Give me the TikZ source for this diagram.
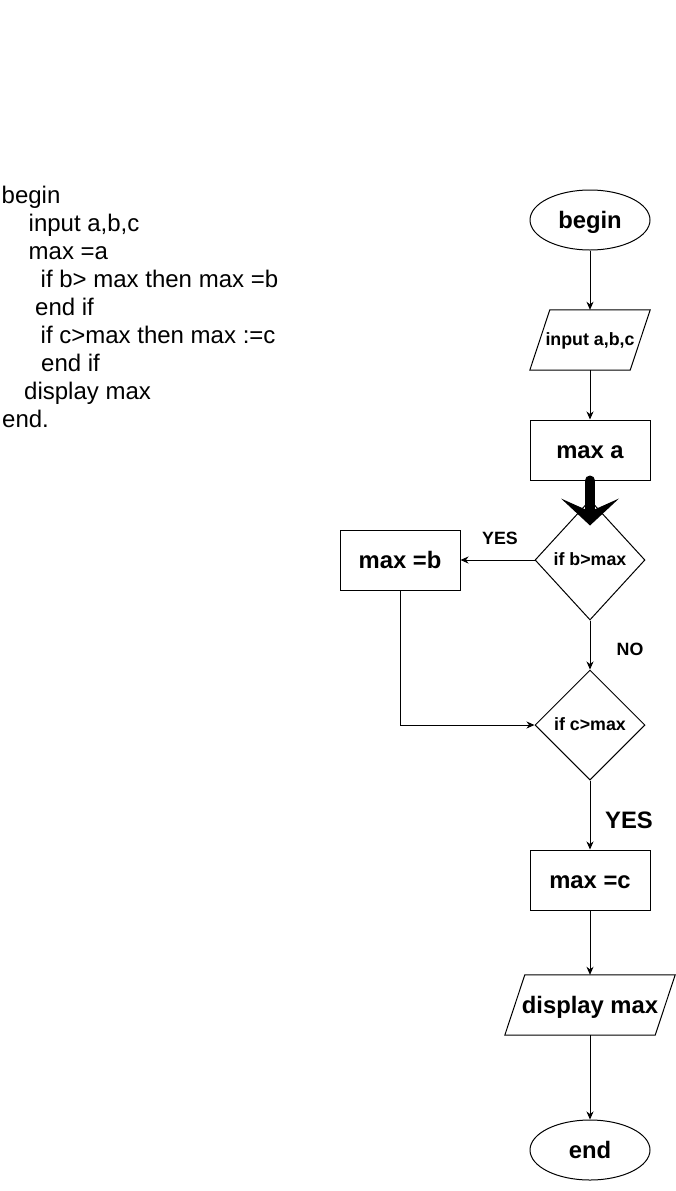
\documentclass[tikz,border=0pt]{standalone}
\usepackage{fontspec}
\setmainfont{Liberation Sans}
\usetikzlibrary{shapes.geometric,arrows.meta}
\begin{document}
\begin{tikzpicture}[x=1pt,y=-1pt,
  big/.style={font=\fontsize{23.8}{28}\selectfont\bfseries, text height=17pt, text depth=1pt},
  small/.style={font=\fontsize{17.8}{21}\selectfont\bfseries, text height=12.5pt, text depth=1.5pt},
  code/.style={font=\fontsize{24}{28}\selectfont, anchor=base west, inner sep=0pt},
  terminal/.style={draw, ellipse, minimum width=120pt, minimum height=60pt, inner sep=0pt, line width=1pt, big},
  process/.style={draw, rectangle, minimum width=120pt, minimum height=60pt, inner sep=0pt, line width=1pt, big},
  iobox/.style={rectangle, minimum height=60pt, inner sep=0pt},
  decision/.style={draw, diamond, minimum width=110pt, inner sep=0pt, line width=1pt, small},
  slanted/.style={line width=1pt, line join=miter},
  flow/.style={line width=1pt, -{Stealth[length=8pt,width=7pt,inset=2.5pt]}},
  heavyflow/.style={line width=10pt, line cap=round,
    -{Stealth[length=27pt,width=58pt,inset=13pt,line width=0pt]}, shorten >=-26pt},
  lbl/.style={inner sep=0pt}
]
\useasboundingbox (0,0) rectangle (676,1191);

% pseudo-code listing
\node[code] (c1) at (1.5,203) {begin};
\node[code] (c2) at (28.5,231) {input a,b,c};
\node[code] (c3) at (28.5,259) {max =a};
\node[code] (c4) at (40.5,287) {if b> max then max =b};
\node[code] (c5) at (35,315) {end if};
\node[code] (c6) at (40.5,343) {if c>max then max :=c};
\node[code] (c7) at (41,371) {end if};
\node[code] (c8) at (24,399) {display max};
\node[code] (c9) at (2,427) {end.};

% flowchart nodes
\node[terminal] (begin) at (590,220) {begin};
\node[iobox, minimum width=120pt, small] (input) at (590,340) {input a,b,c};
\draw[slanted] ([xshift=20pt]input.north west) -- (input.north east)
  -- ([xshift=-20pt]input.south east) -- (input.south west) -- cycle;
\node[process] (maxa) at (590,450) {max a};
\node[decision, minimum height=120pt] (ifb) at (590,560) {if b>max};
\node[process] (maxb) at (400,560) {max =b};
\node[decision, minimum height=110pt] (ifc) at (590,725) {if c>max};
\node[process] (maxc) at (590,880) {max =c};
\node[iobox, minimum width=170pt, big] (disp) at (590,1005) {display max};
\draw[slanted] ([xshift=20pt]disp.north west) -- (disp.north east)
  -- ([xshift=-20pt]disp.south east) -- (disp.south west) -- cycle;
\node[terminal] (end) at (590,1150) {end};

% branch labels
\node[lbl, small] (yes1) at (500,539) {YES};
\node[lbl, small] (no1) at (630,650) {NO};
\node[lbl, big] (yes2) at (629,820) {YES};

% connectors
\draw[flow] (begin) -- (input);
\draw[flow] (input) -- (maxa);
\draw[heavyflow] (maxa) -- (ifb);
\draw[flow] (ifb) -- (maxb);
\draw[flow] (ifb) -- (ifc);
\draw[flow] (maxb) |- (ifc);
\draw[flow] (ifc) -- (maxc);
\draw[flow] (maxc) -- (disp);
\draw[flow] (disp) -- (end);
\end{tikzpicture}
\end{document}
